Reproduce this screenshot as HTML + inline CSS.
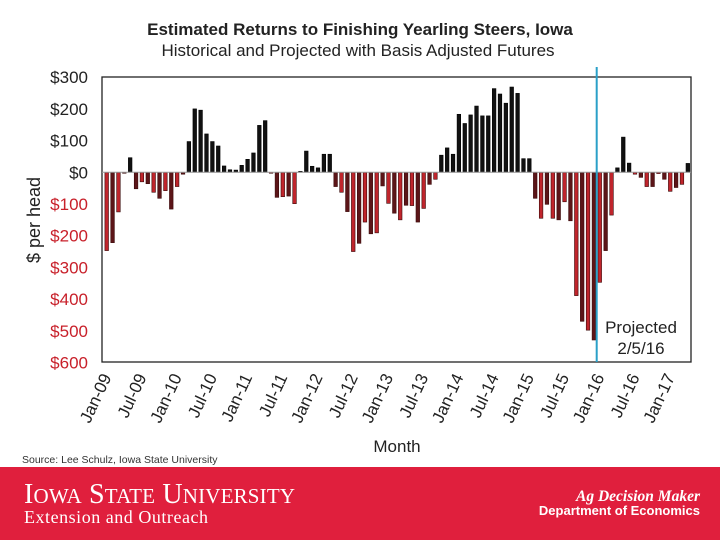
<!DOCTYPE html>
<html><head><meta charset="utf-8"><style>
body{margin:0;width:720px;height:540px;overflow:hidden;background:#fff;font-family:"Liberation Sans",sans-serif}
</style></head><body>
<svg width="720" height="540" viewBox="0 0 720 540">
<text x="360" y="35" text-anchor="middle" font-family="Liberation Sans" font-weight="bold" font-size="17" fill="#222">Estimated Returns to Finishing Yearling Steers, Iowa</text>
<text x="358" y="56" text-anchor="middle" font-family="Liberation Sans" font-size="17" fill="#222">Historical and Projected with Basis Adjusted Futures</text>
<rect x="102" y="77" width="589" height="285" fill="none" stroke="#222" stroke-width="1.3"/>
<g id="yaxis"></g>
<g id="bars"></g>
<line x1="102" x2="691" y1="172.3" y2="172.3" stroke="#999" stroke-width="1"/>
<line x1="596.7" x2="596.7" y1="67" y2="362" stroke="#2aa0c8" stroke-width="2"/>
<text x="641" y="333" text-anchor="middle" font-size="17" fill="#222">Projected</text>
<text x="641" y="354" text-anchor="middle" font-size="17" fill="#222">2/5/16</text>
<g id="xaxis"></g>
<text x="40" y="220" text-anchor="middle" font-size="18" fill="#222" transform="rotate(-90 40 220)">$ per head</text>
<text x="397" y="452" text-anchor="middle" font-size="17" fill="#222">Month</text>
<text x="22" y="463" font-size="10.5" fill="#333">Source: Lee Schulz, Iowa State University</text>
<rect x="0" y="467" width="720" height="73" fill="#e01f3d"/>
<text x="24" y="503" font-family="Liberation Serif" font-size="28" fill="#fff" textLength="271">I<tspan font-size="21">OWA</tspan> S<tspan font-size="21">TATE</tspan> U<tspan font-size="21">NIVERSITY</tspan></text>
<text x="24" y="523" font-family="Liberation Serif" font-size="18" fill="#fff" textLength="184">Extension and Outreach</text>
<text x="700" y="501" text-anchor="end" font-family="Liberation Serif" font-style="italic" font-weight="bold" font-size="15.5" fill="#fff">Ag Decision Maker</text>
<text x="700" y="515" text-anchor="end" font-weight="bold" font-size="13" fill="#fff">Department of Economics</text>
</svg>
<script>
const values=[-247,-222,-125,-3,46,-52,-30,-36,-63,-82,-58,-116,-45,-6,97,200,196,121,97,83,20,8,7,22,41,61,148,163,-3,-79,-77,-75,-99,3,67,19,14,57,57,-45,-63,-124,-250,-224,-157,-194,-191,-43,-98,-129,-150,-104,-105,-157,-114,-38,-22,54,77,57,183,154,181,209,178,178,264,247,218,269,249,43,43,-82,-145,-101,-145,-150,-93,-153,-389,-470,-498,-529,-347,-247,-135,14,111,29,-6,-16,-45,-45,-4,-22,-60,-48,-38,28];
const yTicks=[300,200,100,0,-100,-200,-300,-400,-500,-600];
const yTickLabels=["$300","$200","$100","$0","$100","$200","$300","$400","$500","$600"];
const xLabels=["Jan-09","Jul-09","Jan-10","Jul-10","Jan-11","Jul-11","Jan-12","Jul-12","Jan-13","Jul-13","Jan-14","Jul-14","Jan-15","Jul-15","Jan-16","Jul-16","Jan-17"];
const NS="http://www.w3.org/2000/svg";
const y=v=>172.3-v*0.317;
const x=i=>106.7+i*5.87;
const bars=document.getElementById('bars');
values.forEach((v,i)=>{
  const r=document.createElementNS(NS,'rect');
  r.setAttribute('x',x(i)-1.8);r.setAttribute('width',3.6);
  r.setAttribute('y',Math.min(y(v),y(0)));r.setAttribute('height',Math.abs(y(v)-y(0)));
  r.setAttribute('fill',v>=0?'#111':(i%2?'#5c1518':'#c0252c'));
  r.setAttribute('stroke',v>=0?'#000':'#3a0a0a');r.setAttribute('stroke-width','0.6');
  
  
  bars.appendChild(r);
});
const ya=document.getElementById('yaxis');
yTicks.forEach((t,k)=>{
  const tx=document.createElementNS(NS,'text');
  tx.setAttribute('x',88);tx.setAttribute('y',y(t)+6);tx.setAttribute('text-anchor','end');
  tx.setAttribute('font-size','17');tx.setAttribute('fill',t<0?'#c8202a':'#222');
  tx.textContent=yTickLabels[k];
  
  
  ya.appendChild(tx);
});
const xa=document.getElementById('xaxis');
xLabels.forEach((l,k)=>{
  const px=x(k*6)+5,py=377;
  const tx=document.createElementNS(NS,'text');
  tx.setAttribute('x',px);tx.setAttribute('y',py);tx.setAttribute('text-anchor','end');
  tx.setAttribute('font-size','17');tx.setAttribute('fill','#222');
  tx.setAttribute('transform','rotate(-65 '+px+' '+py+')');
  tx.textContent=l;
  
  
  xa.appendChild(tx);
});
</script>
</body></html>
